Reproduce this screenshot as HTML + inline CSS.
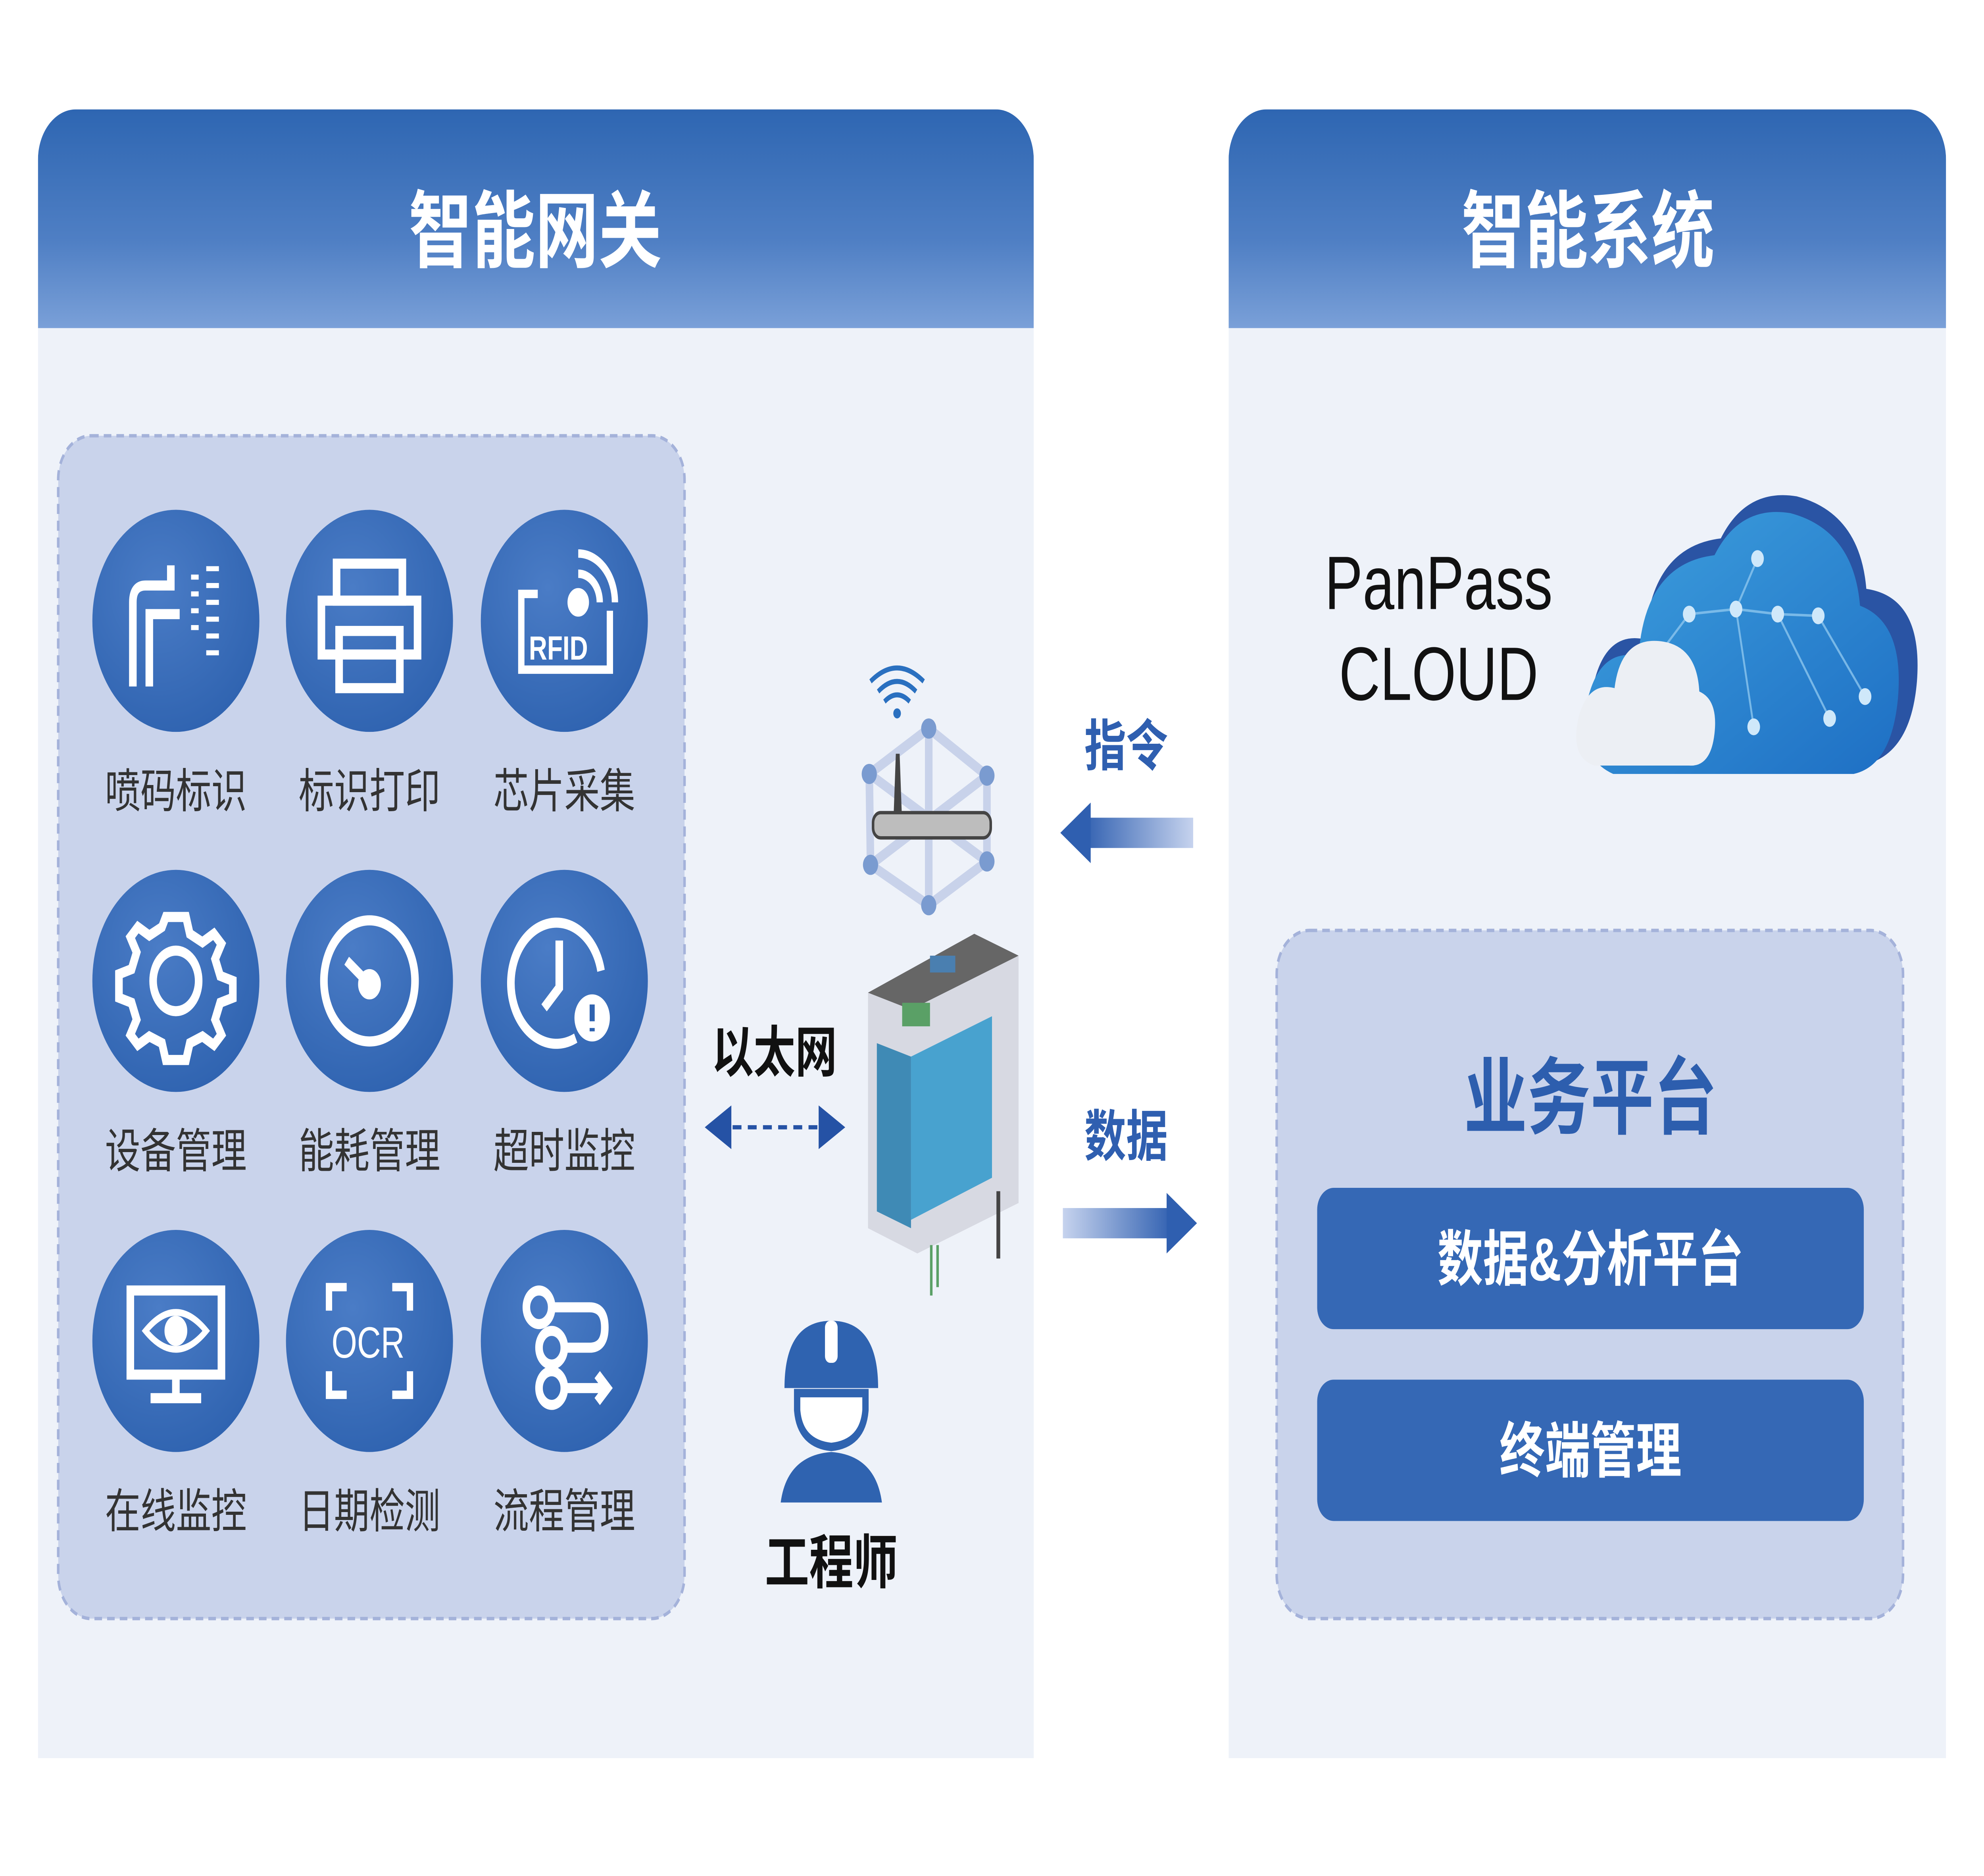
<!DOCTYPE html>
<html><head><meta charset="utf-8"><style>
html,body{margin:0;padding:0;width:100%;height:100%;overflow:hidden;background:#fff}
svg{display:block;width:100vw;height:100vh}
text{font-family:"Liberation Sans","Noto Sans CJK SC",sans-serif}
</style></head><body>
<svg viewBox="0 0 1568 1115" preserveAspectRatio="none" xmlns="http://www.w3.org/2000/svg">
<defs>
<linearGradient id="hd" x1="0" y1="0" x2="0" y2="1"><stop offset="0" stop-color="#2e66b2"/><stop offset="0.6" stop-color="#4f7fc4"/><stop offset="1" stop-color="#7aa0d8"/></linearGradient>
<radialGradient id="cg" cx="0.4" cy="0.35" r="0.7"><stop offset="0" stop-color="#4a7cc6"/><stop offset="1" stop-color="#2f63b0"/></radialGradient>
<linearGradient id="gl" x1="0" x2="1"><stop offset="0" stop-color="#2f5fb0"/><stop offset="1" stop-color="#c6d3ee"/></linearGradient>
<linearGradient id="gr" x1="0" x2="1"><stop offset="0" stop-color="#c6d3ee"/><stop offset="1" stop-color="#2f5fb0"/></linearGradient>
<linearGradient id="cl" x1="0" y1="0" x2="1" y2="1"><stop offset="0" stop-color="#3ea0de"/><stop offset="1" stop-color="#1e6fc4"/></linearGradient>
<clipPath id="p1"><path d="M30 95a30 30 0 0 1 30-30h727a30 30 0 0 1 30 30v950H30z"/></clipPath>
<clipPath id="p2"><path d="M971 95a30 30 0 0 1 30-30h507a30 30 0 0 1 30 30v950H971z"/></clipPath>
</defs>
<g clip-path="url(#p1)"><rect x="30" y="65" width="787" height="980" fill="#eef2f9"/><rect x="30" y="65" width="787" height="130" fill="url(#hd)"/></g>
<g clip-path="url(#p2)"><rect x="971" y="65" width="567" height="980" fill="#eef2f9"/><rect x="971" y="65" width="567" height="130" fill="url(#hd)"/></g>
<text x="423" y="155" font-size="50" font-weight="bold" fill="#fff" text-anchor="middle">智能网关</text>
<text x="1255" y="155" font-size="50" font-weight="bold" fill="#fff" text-anchor="middle">智能系统</text>

<rect x="46" y="259" width="495" height="703" rx="26" fill="#c9d3eb" stroke="#a4b2da" stroke-width="2" stroke-dasharray="6 4"/>

<g fill="url(#cg)">
<circle cx="139" cy="369" r="66"/><circle cx="292" cy="369" r="66"/><circle cx="446" cy="369" r="66"/>
<circle cx="139" cy="583" r="66"/><circle cx="292" cy="583" r="66"/><circle cx="446" cy="583" r="66"/>
<circle cx="139" cy="797" r="66"/><circle cx="292" cy="797" r="66"/><circle cx="446" cy="797" r="66"/>
</g>
<g fill="none" stroke="#fff" stroke-width="6">
<g transform="translate(73,303)"><path d="M32 105V55q0-10 10-10h20v-12"/><path d="M45 105V62h24"/><g stroke-width="3"><path d="M78 40h6M78 50h6M78 60h6M78 70h6M90 35h10M90 45h10M90 55h10M90 65h10M90 75h10M90 85h10"/></g></g>
<g transform="translate(226,303)"><rect x="40" y="32" width="52" height="22"/><rect x="28" y="54" width="76" height="32"/><rect x="42" y="72" width="48" height="34"/></g>
<g transform="translate(380,303)" stroke-width="5"><path d="M45 50H32v45h70V60"/><circle cx="77" cy="55" r="6" fill="#fff"/><path d="M77 38a17 17 0 0 1 17 17M77 26a29 29 0 0 1 29 29"/><text x="38" y="89" fill="#fff" stroke="none" font-size="20" font-weight="bold">RFID</text></g>
<g transform="translate(73,517)"><circle cx="66" cy="66" r="18"/><path d="M58 28h16l3 10 10 5 9-5 6 6-5 9 4 10 10 3v10l-10 3-4 10 5 9-6 6-9-5-10 4-3 10H58l-3-10-10-4-9 5-6-6 5-9-4-10-10-3V62l10-3 4-10-5-9 6-6 9 5 10-5z"/></g>
<g transform="translate(226,517)"><circle cx="66" cy="66" r="36"/><circle cx="66" cy="68" r="6" fill="#fff"/><path d="M66 68L48 54"/></g>
<g transform="translate(380,517)"><path d="M95 60a36 36 0 1 0-20 40"/><path d="M62 42v28l-12 12"/><circle cx="88" cy="88" r="14" fill="#fff" stroke="none"/><path d="M88 80v10M88 94v2" stroke="#2f63b0" stroke-width="4"/></g>
<g transform="translate(73,731)"><rect x="30" y="36" width="72" height="50"/><path d="M66 86v12M46 100h40"/><path d="M42 60q24-22 48 0q-24 22-48 0z" stroke-width="4"/><circle cx="66" cy="60" r="6" fill="#fff"/></g>
<g transform="translate(226,731)" stroke-width="5"><path d="M34 48V34h14M98 48V34H84M34 84v14h14M98 84v14H84"/><text x="36" y="76" fill="#fff" stroke="none" font-size="26">OCR</text></g>
<g transform="translate(380,731)"><circle cx="46" cy="46" r="10"/><circle cx="56" cy="70" r="10"/><circle cx="56" cy="94" r="10"/><path d="M56 46h30q12 0 12 12t-12 12H66M66 94h34M92 86l8 8-8 8"/></g>
</g>
<g font-size="28" fill="#333" text-anchor="middle">
<text x="139" y="480">喷码标识</text><text x="292" y="480">标识打印</text><text x="446" y="480">芯片采集</text>
<text x="139" y="694">设备管理</text><text x="292" y="694">能耗管理</text><text x="446" y="694">超时监控</text>
<text x="139" y="908">在线监控</text><text x="292" y="908">日期检测</text><text x="446" y="908">流程管理</text>
</g>

<g stroke="#c8d2ea" stroke-width="6" fill="none"><path d="M687 460L734 433L780 461L780 512L734 538L688 514Z M734 433V538 M687 460L780 512 M780 461L688 514"/></g>
<g fill="#7a9bd0"><circle cx="734" cy="433" r="6"/><circle cx="687" cy="460" r="6"/><circle cx="780" cy="461" r="6"/><circle cx="688" cy="514" r="6"/><circle cx="780" cy="512" r="6"/><circle cx="734" cy="538" r="6"/></g>
<path d="M706 490L708 448h3l2 42z" fill="#444"/>
<g stroke="#2a70c0" stroke-width="3" fill="none"><path d="M699 417q10-8 20 0M694 411q15-12 30 0M688 405q21-16 42 0"/></g>
<circle cx="709" cy="424" r="3" fill="#2a70c0"/>
<rect x="690" y="483" width="93" height="15" rx="6" fill="#bdbdbd" stroke="#444" stroke-width="2"/>
<path d="M686 590L770 555L805 568L805 715L725 745L686 730Z" fill="#d7d9e2"/>
<path d="M686 590L770 555L805 568L720 600Z" fill="#666"/>
<path d="M693 620L720 628V730L693 720Z" fill="#3f8ab5"/>
<path d="M720 628L784 604V700L720 725Z" fill="#48a2cf"/>
<rect x="713" y="596" width="22" height="14" fill="#5aa066"/>
<rect x="735" y="568" width="20" height="10" fill="#4a7fb0"/>
<path d="M736 740v30M741 740v25" stroke="#5aa066" stroke-width="2"/><path d="M789 708v40" stroke="#444" stroke-width="3"/>
<path d="M567 670H650" stroke="#2552a5" stroke-width="2.5" stroke-dasharray="7 5"/>
<path d="M557 670L578 657V683Z M668 670L647 657V683Z" fill="#2552a5"/>
<rect x="855" y="486" width="88" height="18" fill="url(#gl)"/><path d="M838 495L862 477V513Z" fill="#2f5fb0"/>
<rect x="840" y="718" width="88" height="18" fill="url(#gr)"/><path d="M946 727L922 709V745Z" fill="#2f5fb0"/>

<path d="M620 825q0-40 37-40q37 0 37 40z" fill="#2f63b0"/><rect x="652" y="785" width="10" height="25" rx="4" fill="#fff"/>
<path d="M630 828h54v10q-2 20-27 22q-25-2-27-22z" fill="#fff" stroke="#2f63b0" stroke-width="5"/>
<path d="M617 893q5-28 40-30q35 2 40 30z" fill="#2f63b0"/>

<path d="M1280 450q-30-10-20-45q10-30 40-25q5-55 60-60q20-30 60-25q50 10 55 55q45 5 40 55q-5 45-45 50z" fill="#2a54a4"/>
<path d="M1275 460q-30-10-20-45q10-30 40-25q5-55 60-60q20-30 60-25q50 10 55 55q35 10 30 55q-5 40-35 45z" fill="url(#cl)"/>
<g stroke="#8cc6ee" stroke-width="1.5" fill="none" opacity="0.8"><path d="M1335 365L1372 362L1405 365L1437 366M1372 362L1389 332M1372 362L1386 432M1405 365L1446 427M1437 366L1474 414M1335 365L1300 400"/></g>
<g fill="#cfe8fa"><circle cx="1389" cy="332" r="5"/><circle cx="1372" cy="362" r="5"/><circle cx="1405" cy="365" r="5"/><circle cx="1437" cy="366" r="5"/><circle cx="1335" cy="365" r="5"/><circle cx="1386" cy="432" r="5"/><circle cx="1446" cy="427" r="5"/><circle cx="1474" cy="414" r="5"/></g>
<path d="M1260 455q-20-5-12-30q8-20 28-16q5-30 35-28q30 2 32 30q15 5 12 25q-3 20-20 19z" fill="#eceff4"/>

<text x="612" y="637" font-size="33" font-weight="bold" fill="#111" text-anchor="middle">以太网</text>
<text x="890" y="455" font-size="33" font-weight="bold" fill="#2f5fb0" text-anchor="middle">指令</text>
<text x="890" y="687" font-size="33" font-weight="bold" fill="#2f5fb0" text-anchor="middle">数据</text>
<text x="657" y="941" font-size="35" font-weight="bold" fill="#111" text-anchor="middle">工程师</text>
<text x="1137" y="362" font-size="45" fill="#111" text-anchor="middle">PanPass</text>
<text x="1137" y="416" font-size="45" fill="#111" text-anchor="middle">CLOUD</text>

<rect x="1009" y="553" width="495" height="409" rx="26" fill="#c9d3eb" stroke="#a4b2da" stroke-width="2" stroke-dasharray="6 4"/>
<text x="1257" y="670" font-size="50" font-weight="bold" fill="#2d5eae" text-anchor="middle">业务平台</text>
<rect x="1041" y="706" width="432" height="84" rx="13" fill="#3568b5"/>
<rect x="1041" y="820" width="432" height="84" rx="13" fill="#3568b5"/>
<text x="1257" y="761" font-size="36" font-weight="bold" fill="#fff" text-anchor="middle">数据&amp;分析平台</text>
<text x="1257" y="875" font-size="36" font-weight="bold" fill="#fff" text-anchor="middle">终端管理</text>
</svg>
</body></html>
